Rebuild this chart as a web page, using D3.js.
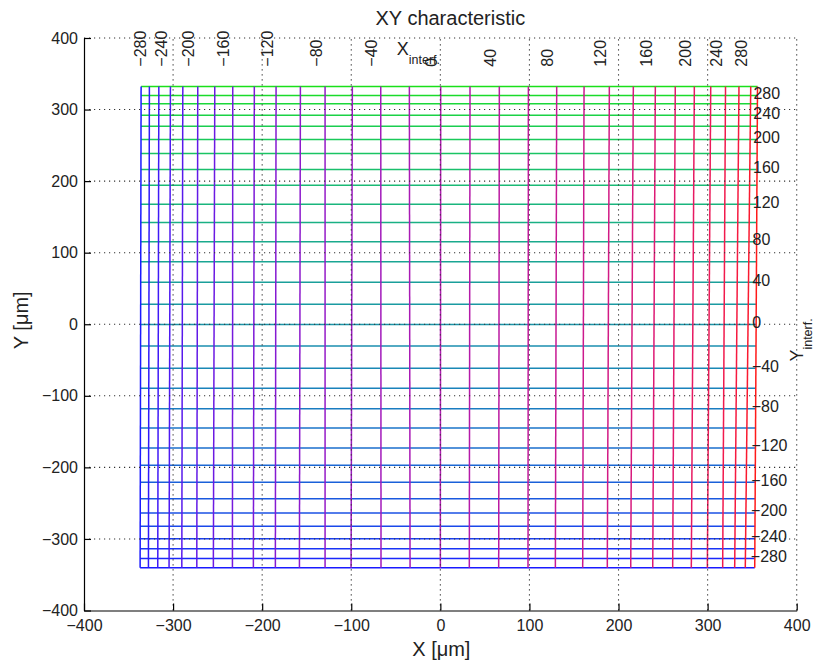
<!DOCTYPE html>
<html>
<head>
<meta charset="utf-8">
<title>XY characteristic</title>
<script src="https://cdn.jsdelivr.net/npm/d3@7"></script>
<style>
    body { margin: 0; background: #fff; }
    svg { display: block; font-family: "Liberation Sans", Arial, Helvetica, sans-serif; }
</style>
</head>
<body>
<script>
// interferometer X setpoints, one vertical mesh line each
const xInterf = [-300, -280, -260, -240, -220, -200, -180, -160, -140, -120, -100, -80, -60, -40, -20,
    0, 20, 40, 60, 80, 100, 120, 140, 160, 180, 200, 220, 240, 260, 280, 300];
// measured X [um] of those lines at the top and bottom of the mesh
const xLineTop = [-335.9, -326.6, -316.0, -303.0, -289.1, -272.3, -253.2, -233.0, -208.8, -184.4, -157.1,
    -129.4, -98.8, -66.9, -34.8, 0.4, 33.3, 66.2, 98.8, 130.6, 161.3, 189.7, 216.6, 241.3, 263.7, 285.1,
    303.5, 320.1, 335.2, 348.4, 356.0];
const xLineBottom = [-337.0, -327.7, -317.2, -304.5, -290.2, -273.4, -254.8, -233.4, -209.9, -185.2, -158.2,
    -129.4, -100.2, -66.6, -34.0, 0.0, 32.5, 65.5, 98.4, 129.1, 159.8, 187.4, 213.7, 238.4, 260.8, 281.7,
    299.7, 316.9, 330.4, 342.3, 352.9];

// interferometer Y setpoints, one horizontal mesh line each, and measured Y [um]
const yInterf = [300, 280, 260, 240, 220, 200, 180, 160, 140, 120, 100, 80, 60, 40, 20,
    0, -20, -40, -60, -80, -100, -120, -140, -160, -180, -200, -220, -240, -260, -280, -300];
const yLinePos = [332.3, 319.8, 308.2, 291.9, 276.6, 258.0, 238.5, 216.2, 194.3, 167.8, 142.3, 115.2,
    87.3, 58.6, 27.9, -0.5, -30.3, -61.4, -89.3, -118.1, -145.0, -172.9, -197.2, -220.9, -243.7, -263.6,
    -282.3, -299.9, -313.8, -327.3, -340.3];

// annotated setpoints
const xLabelValues = [-280, -240, -200, -160, -120, -80, -40, 0, 40, 80, 120, 160, 200, 240, 280];
const yLabelValues = [280, 240, 200, 160, 120, 80, 40, 0, -40, -80, -120, -160, -200, -240, -280];

const xTicks = [-400, -300, -200, -100, 0, 100, 200, 300, 400];
const yTicks = [-400, -300, -200, -100, 0, 100, 200, 300, 400];

const width = 815,
    height = 662,
    x = d3.scaleLinear().domain([-400, 400]).range([84, 796.7]),
    y = d3.scaleLinear().domain([-400, 400]).range([610.5, 38]),
    vColor = d3.scaleLinear().domain([-300, 300]).range(['#1a1aff', '#ff1a1a']).interpolate(d3.interpolateRgb.gamma(1.8)),
    hColor = d3.scaleLinear().domain([-300, 300]).range(['#1a1aff', '#1ae01a']).interpolate(d3.interpolateRgb.gamma(1.6)),
    svg = d3.select('body')
        .append('svg')
        .attr('width', width)
        .attr('height', height);

const last = xInterf.length - 1,
    yTop = yLinePos[0],
    yBot = yLinePos[yLinePos.length - 1];

// x of vertical line i at height yy (the lines lean a little)
function xAt(i, yy) {
    const t = (yy - yBot) / (yTop - yBot);
    return xLineBottom[i] + (xLineTop[i] - xLineBottom[i]) * t;
}

// mesh: horizontal lines first, vertical lines over them
const mesh = svg.append('g').attr('fill', 'none').attr('stroke-width', 1.5);

mesh.selectAll('.hline')
    .data(yInterf)
    .enter()
    .append('line')
    .attr('class', 'hline')
    .attr('x1', (d, j) => x(xAt(0, yLinePos[j])))
    .attr('x2', (d, j) => x(xAt(last, yLinePos[j])))
    .attr('y1', (d, j) => y(yLinePos[j]))
    .attr('y2', (d, j) => y(yLinePos[j]))
    .attr('stroke', d => hColor(d));

mesh.selectAll('.vline')
    .data(xInterf)
    .enter()
    .append('line')
    .attr('class', 'vline')
    .attr('x1', (d, i) => x(xLineBottom[i]))
    .attr('x2', (d, i) => x(xLineTop[i]))
    .attr('y1', y(yBot))
    .attr('y2', y(yTop))
    .attr('stroke', d => vColor(d));

// dotted grid
const grid = svg.append('g')
    .attr('stroke', '#333')
    .attr('stroke-width', 1.1)
    .attr('stroke-dasharray', '1.2,3.8');

grid.selectAll('.gx')
    .data(xTicks.slice(1))
    .enter()
    .append('line')
    .attr('x1', d => x(d)).attr('x2', d => x(d))
    .attr('y1', y(-400)).attr('y2', y(400));

grid.selectAll('.gy')
    .data(yTicks.slice(1))
    .enter()
    .append('line')
    .attr('x1', x(-400)).attr('x2', x(400))
    .attr('y1', d => y(d)).attr('y2', d => y(d));

// axes, ticks pointing inwards
const xAxis = svg.append('g')
    .attr('transform', 'translate(0,' + y(-400) + ')')
    .call(d3.axisBottom(x).tickValues(xTicks).tickSizeInner(-7).tickSizeOuter(0).tickPadding(9));

const yAxis = svg.append('g')
    .attr('transform', 'translate(' + x(-400) + ',0)')
    .call(d3.axisLeft(y).tickValues(yTicks).tickSizeInner(-7).tickSizeOuter(0).tickPadding(6));

[xAxis, yAxis].forEach(g => {
    g.attr('font-family', null).attr('font-size', 16);
    g.selectAll('path, line').attr('stroke', '#000').attr('stroke-width', 1.2);
    g.selectAll('text').attr('fill', '#222');
});

// setpoint labels along the top of the mesh
svg.append('g')
    .selectAll('text')
    .data(xLabelValues)
    .enter()
    .append('text')
    .attr('transform', d => 'translate(' + (x(xLineTop[xInterf.indexOf(d)]) - 9) + ',' + y(360) + ') rotate(-90)')
    .attr('dy', '0.35em')
    .attr('font-size', 16)
    .attr('fill', '#222')
    .text(d => d3.format('d')(d));

// setpoint labels along the right edge of the mesh
svg.append('g')
    .selectAll('text')
    .data(yLabelValues)
    .enter()
    .append('text')
    .attr('x', d => x(xAt(last, yLinePos[yInterf.indexOf(d)])) - 4)
    .attr('y', d => y(yLinePos[yInterf.indexOf(d)]))
    .attr('dy', 3.5)
    .attr('font-size', 16)
    .attr('fill', '#222')
    .text(d => d3.format('d')(d));

// X_interf. and Y_interf. captions
const xCap = svg.append('text')
    .attr('x', x(-48.9))
    .attr('y', y(375.6))
    .attr('font-size', 18)
    .attr('fill', '#222')
    .text('X');
xCap.append('tspan')
    .attr('dy', 9)
    .attr('font-size', 12.5)
    .text('interf.');

const yCap = svg.append('text')
    .attr('transform', 'translate(' + x(407.4) + ',' + y(-52.2) + ') rotate(-90)')
    .attr('font-size', 18)
    .attr('fill', '#222')
    .text('Y');
yCap.append('tspan')
    .attr('dy', 9)
    .attr('font-size', 12.5)
    .text('interf.');

// title and axis labels
svg.append('text')
    .attr('x', (x(-400) + x(400)) / 2 + 10)
    .attr('y', 25)
    .attr('text-anchor', 'middle')
    .attr('font-size', 20)
    .attr('fill', '#222')
    .text('XY characteristic');

svg.append('text')
    .attr('x', (x(-400) + x(400)) / 2 + 1)
    .attr('y', 656)
    .attr('text-anchor', 'middle')
    .attr('font-size', 20)
    .attr('fill', '#222')
    .text('X [\u03bcm]');

svg.append('text')
    .attr('transform', 'translate(28,' + (y(0) - 4) + ') rotate(-90)')
    .attr('text-anchor', 'middle')
    .attr('font-size', 20)
    .attr('fill', '#222')
    .text('Y [\u03bcm]');
</script>
</body>
</html>
